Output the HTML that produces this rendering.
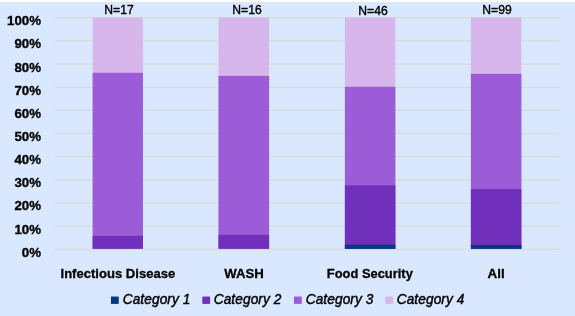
<!DOCTYPE html>
<html>
<head>
<meta charset="utf-8">
<title>Chart</title>
<style>
html,body{margin:0;padding:0;}
body{width:575px;height:316px;overflow:hidden;background:#d9e8fe;position:relative;font-family:"Liberation Sans",sans-serif;color:#000;}
#top{position:absolute;left:0;top:0;width:575px;height:2px;background:#fff;}
.g{position:absolute;left:55px;width:504.5px;height:1px;background:#e0dad3;}
.b{position:absolute;}
.c4{background:#d7b7eb;}
.c3{background:#9c5bd7;}
.c2{background:#7030bb;}
.c1{background:#003882;}
#txt{position:absolute;left:0;top:0;width:575px;height:316px;will-change:transform;}
.yl{position:absolute;left:0;width:40.8px;-webkit-text-stroke:0.35px #000;text-align:right;font-weight:bold;font-size:13.7px;line-height:14px;height:14px;white-space:nowrap;transform:translate(0.2px,0.7px) scaleX(0.97);transform-origin:100% 50%;}
.n{position:absolute;font-size:12.9px;line-height:14px;height:14px;white-space:nowrap;transform:translateX(-50%) scaleX(0.94);-webkit-text-stroke:0.4px #000;}
.cat{position:absolute;-webkit-text-stroke:0.3px #000;font-weight:bold;font-size:13.6px;line-height:16px;height:16px;white-space:nowrap;transform-origin:0 50%;}
.sw{position:absolute;width:7.8px;height:7.5px;top:296.5px;}
.lt{position:absolute;font-style:italic;font-size:14.4px;line-height:16px;height:16px;top:292px;white-space:nowrap;transform-origin:0 50%;letter-spacing:0.1px;-webkit-text-stroke:0.45px #000;transform:translate(-0.3px,-0.6px) scaleX(0.95);}
</style>
</head>
<body>
<div id="top"></div>
<svg id="plot" width="575" height="316" viewBox="0 0 575 316" style="position:absolute;left:0;top:0">
<g fill="#d9d9d6" fill-opacity="0.92">
<rect x="55" y="17.05" width="504.5" height="1.3"/>
<rect x="55" y="40.30" width="504.5" height="1.3"/>
<rect x="55" y="63.55" width="504.5" height="1.3"/>
<rect x="55" y="86.65" width="504.5" height="1.3"/>
<rect x="55" y="109.70" width="504.5" height="1.3"/>
<rect x="55" y="132.85" width="504.5" height="1.3"/>
<rect x="55" y="156.05" width="504.5" height="1.3"/>
<rect x="55" y="179.25" width="504.5" height="1.3"/>
<rect x="55" y="202.35" width="504.5" height="1.3"/>
<rect x="55" y="225.60" width="504.5" height="1.3"/>
<rect x="55" y="248.80" width="504.5" height="1.3"/>
</g>
<rect x="92.65" y="17.5" width="50.35" height="231.3" fill="#d7b7eb"/>
<rect x="92.65" y="72.8" width="50.35" height="176.0" fill="#9c5bd7"/>
<rect x="92.65" y="235.9" width="50.35" height="12.9" fill="#7030bb"/>
<rect x="218.5" y="17.5" width="50.6" height="231.3" fill="#d7b7eb"/>
<rect x="218.5" y="75.9" width="50.6" height="172.9" fill="#9c5bd7"/>
<rect x="218.5" y="234.9" width="50.6" height="13.9" fill="#7030bb"/>
<rect x="344.9" y="17.5" width="50.45" height="231.3" fill="#d7b7eb"/>
<rect x="344.9" y="86.8" width="50.45" height="162.0" fill="#9c5bd7"/>
<rect x="344.9" y="185.4" width="50.45" height="63.4" fill="#7030bb"/>
<rect x="344.9" y="244.7" width="50.45" height="4.1" fill="#003882"/>
<rect x="470.9" y="17.5" width="50.45" height="231.3" fill="#d7b7eb"/>
<rect x="470.9" y="73.8" width="50.45" height="175.0" fill="#9c5bd7"/>
<rect x="470.9" y="189.0" width="50.45" height="59.8" fill="#7030bb"/>
<rect x="470.9" y="244.9" width="50.45" height="3.9" fill="#003882"/>
<rect x="110.95" y="296.55" width="7.8" height="7.35" fill="#003882"/>
<rect x="202.3" y="296.55" width="7.8" height="7.35" fill="#7030bb"/>
<rect x="293.95" y="296.55" width="7.8" height="7.35" fill="#9c5bd7"/>
<rect x="385.25" y="296.55" width="7.8" height="7.35" fill="#d7b7eb"/>
</svg>

<div id="txt">
<!-- y labels -->
<div class="yl" style="top:13.2px">100%</div>
<div class="yl" style="top:36.3px">90%</div>
<div class="yl" style="top:59.5px">80%</div>
<div class="yl" style="top:82.6px">70%</div>
<div class="yl" style="top:105.8px">60%</div>
<div class="yl" style="top:128.9px">50%</div>
<div class="yl" style="top:152.1px">40%</div>
<div class="yl" style="top:175.2px">30%</div>
<div class="yl" style="top:198.4px">20%</div>
<div class="yl" style="top:221.5px">10%</div>
<div class="yl" style="top:244.7px">0%</div>

<!-- N labels -->
<div class="n" style="left:119.3px;top:3.3px">N=17</div>
<div class="n" style="left:247.3px;top:3.3px">N=16</div>
<div class="n" style="left:373.1px;top:4.3px">N=46</div>
<div class="n" style="left:496.6px;top:3.3px">N=99</div>

<!-- categories -->
<div class="cat" id="k1" style="left:60px;top:265px;transform:translate(0.5px,0.6px) scaleX(0.961)">Infectious Disease</div>
<div class="cat" id="k2" style="left:224px;top:265px;transform:translate(0.2px,0.6px) scaleX(0.972)">WASH</div>
<div class="cat" id="k3" style="left:326px;top:265px;transform:translate(0.8px,0.6px) scaleX(0.949)">Food Security</div>
<div class="cat" id="k4" style="left:487px;top:265px;transform:translate(0.6px,0.6px) scaleX(0.985)">All</div>

<!-- legend -->
<div class="lt" id="l1" style="left:122.5px">Category 1</div>
<div class="lt" id="l2" style="left:214px">Category 2</div>
<div class="lt" id="l3" style="left:305.8px">Category 3</div>
<div class="lt" id="l4" style="left:396.5px">Category 4</div>
</div>
</body>
</html>
